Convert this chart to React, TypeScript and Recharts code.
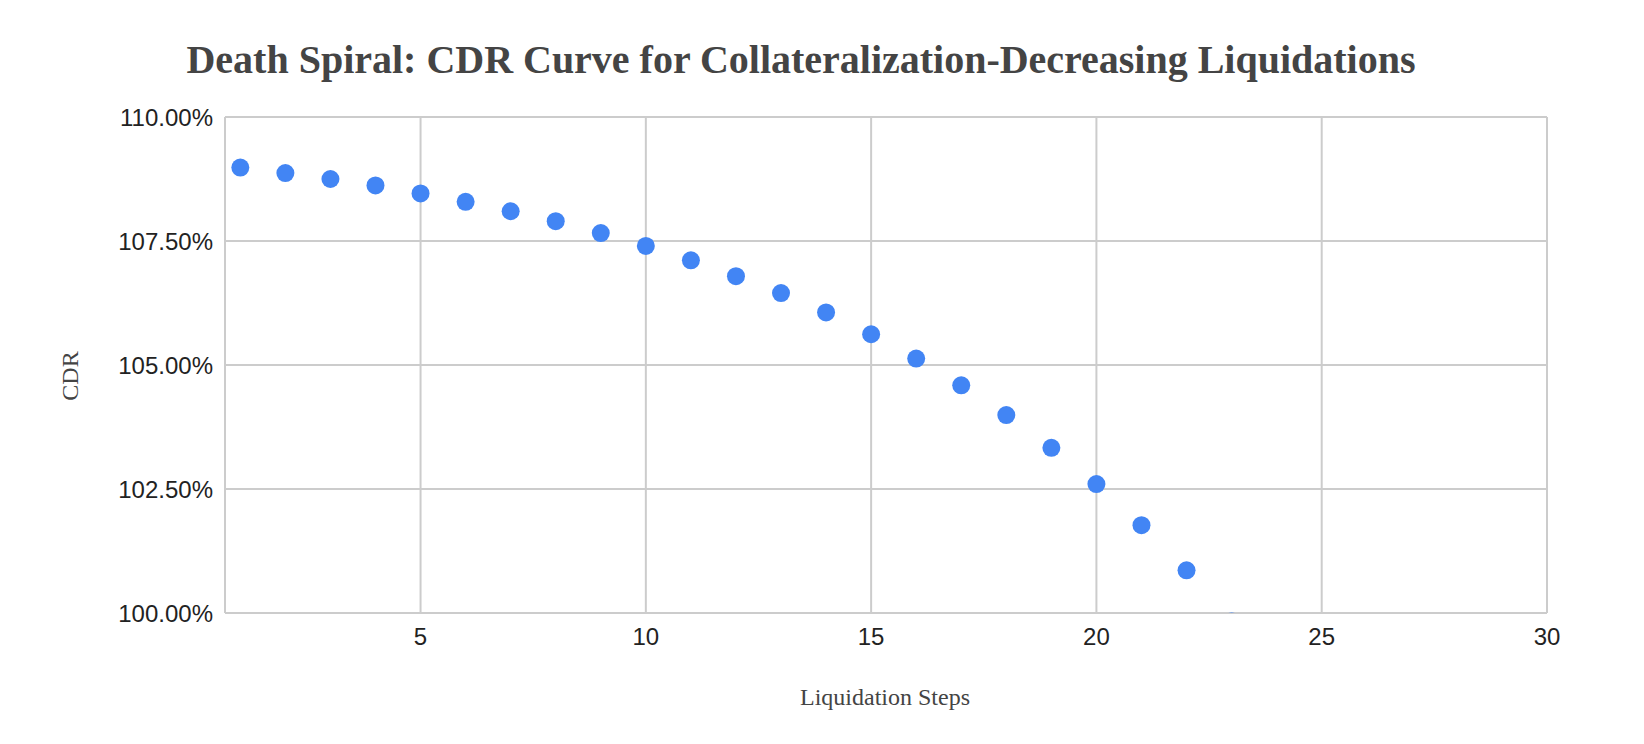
import React from "react";
import { ScatterChart, Scatter, XAxis, YAxis, CartesianGrid } from "recharts";

// liquidation step index and CDR (%)
const steps = [1, 2, 3, 4, 5, 6, 7, 8, 9, 10, 11, 12, 13, 14, 15, 16, 17, 18, 19, 20, 21, 22, 23];
const cdr = [
  108.98, 108.87, 108.75, 108.62, 108.46, 108.29, 108.1, 107.9, 107.66, 107.4, 107.11, 106.79, 106.45,
  106.06, 105.62, 105.13, 104.59, 103.99, 103.33, 102.6, 101.77, 100.86, 99.83,
];
const xTicks = [5, 10, 15, 20, 25, 30];
const yTicks = [100, 102.5, 105, 107.5, 110];

const W = 1644;
const H = 744;
const BLUE = "#4285f4";

export default function App() {
  const data = steps.map((s, i) => ({ step: s, cdr: cdr[i] }));
  const tickStyle = { fontFamily: "'Liberation Sans', Arial, sans-serif", fontSize: 24, fill: "#222" };

  return (
    <div style={{ position: "absolute", left: 0, top: 0, width: W, height: H, background: "#fff" }}>
      <ScatterChart width={W} height={H} margin={{ top: 117, right: 97, bottom: 0, left: 0 }}>
        <CartesianGrid stroke="#cccccc" strokeWidth={2} />
        <XAxis
          type="number"
          dataKey="step"
          domain={[0.66, 30]}
          ticks={xTicks}
          allowDataOverflow
          height={131}
          axisLine={false}
          tickLine={false}
          tickSize={0}
          tickMargin={15}
          tick={tickStyle}
        />
        <YAxis
          type="number"
          dataKey="cdr"
          domain={[100, 110]}
          ticks={yTicks}
          allowDataOverflow
          width={225}
          axisLine={false}
          tickLine={false}
          tickSize={0}
          tickMargin={12}
          tick={tickStyle}
          tickFormatter={(v: number) => v.toFixed(2) + "%"}
        />
        <Scatter
          data={data}
          isAnimationActive={false}
          shape={(p: any) => <circle cx={p.cx} cy={p.cy} r={9} fill={BLUE} />}
        />
      </ScatterChart>
      <svg
        width={W}
        height={H}
        style={{ position: "absolute", left: 0, top: 0, pointerEvents: "none" }}
      >
        <text
          x={801}
          y={73}
          textAnchor="middle"
          textLength={1229}
          lengthAdjust="spacingAndGlyphs"
          style={{ fontFamily: "'Liberation Serif', 'Times New Roman', serif", fontSize: 40, fontWeight: 700, fill: "#444" }}
        >
          Death Spiral: CDR Curve for Collateralization-Decreasing Liquidations
        </text>
        <text
          x={885}
          y={705}
          textAnchor="middle"
          style={{ fontFamily: "'Liberation Serif', 'Times New Roman', serif", fontSize: 24, fill: "#444" }}
        >
          Liquidation Steps
        </text>
        <text
          x={70}
          y={376}
          textAnchor="middle"
          dominantBaseline="central"
          transform="rotate(-90, 70, 376)"
          style={{ fontFamily: "'Liberation Serif', 'Times New Roman', serif", fontSize: 24, fill: "#444" }}
        >
          CDR
        </text>
      </svg>
    </div>
  );
}
